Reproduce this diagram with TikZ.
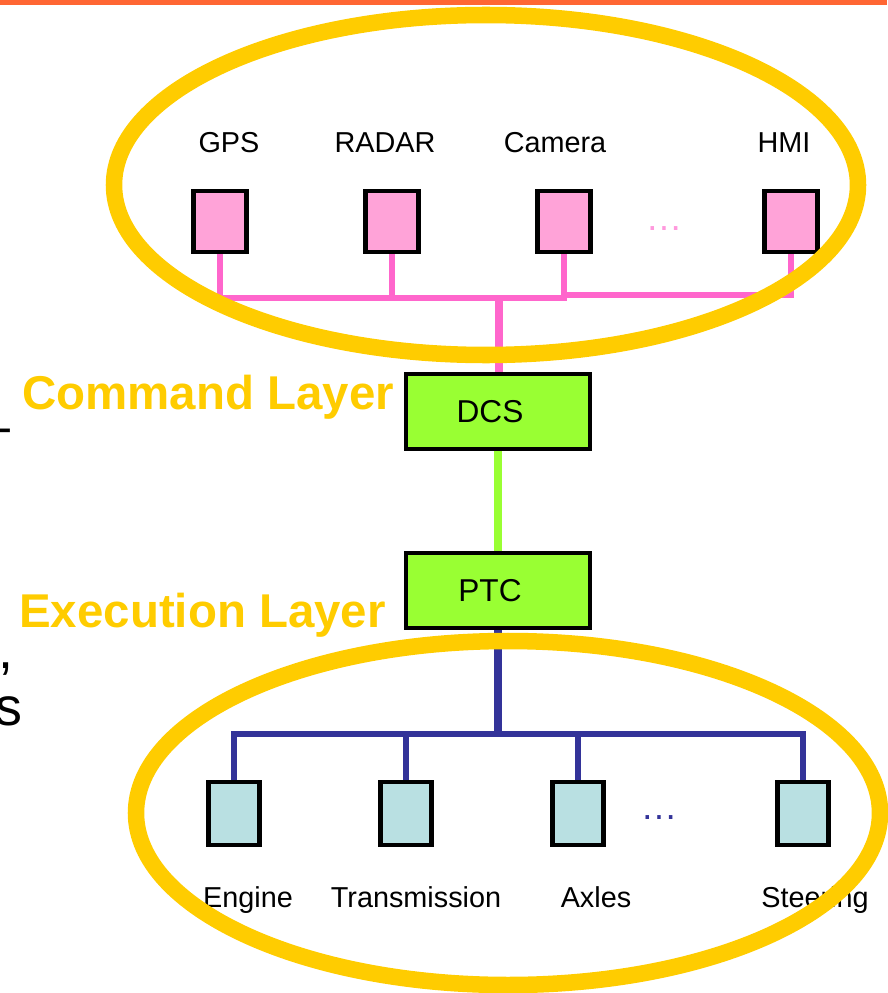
\documentclass[tikz,border=0pt]{standalone}
\usepackage{fontspec}
\setmainfont{Liberation Sans}
\definecolor{orangebar}{HTML}{FF6633}
\definecolor{yel}{HTML}{FFCC00}
\definecolor{pinkfill}{HTML}{FFA3D8}
\definecolor{pinkline}{HTML}{FF66CC}
\definecolor{pinkdot}{HTML}{FF99DD}
\definecolor{greenfill}{HTML}{99FF33}
\definecolor{blueline}{HTML}{333399}
\definecolor{cyanfill}{HTML}{B9E0E2}
\begin{document}
\begin{tikzpicture}[x=0.02cm,y=-0.02cm,
  box/.style={draw=black,line width=2.3pt,inner sep=0pt},
  sensor/.style={box,fill=pinkfill,minimum width=1.06cm,minimum height=1.22cm},
  ctrl/.style={box,fill=greenfill,minimum width=3.68cm,minimum height=1.5cm,font=\fontsize{18}{20}\selectfont},
  actu/.style={box,fill=cyanfill,minimum width=1.02cm,minimum height=1.26cm},
  lbl/.style={font=\fontsize{16.4}{18}\selectfont,anchor=base,inner sep=0pt},
  layer/.style={font=\bfseries\fontsize{27}{30}\selectfont,text=yel,anchor=base west,inner sep=0pt},
  frag/.style={font=\fontsize{30.6}{34}\selectfont,anchor=base west,inner sep=0pt},
  dotsnode/.style={font=\fontsize{21}{24}\selectfont,anchor=base,inner sep=0pt},
  ring/.style={draw=yel,line width=9.4pt},
  pinkbus/.style={draw=pinkline,line width=3pt,line join=miter},
  stem/.style={line width=4pt},
  greenbus/.style={draw=greenfill,line width=4.2pt},
  bluebus/.style={draw=blueline,line width=3pt,line join=miter}]
\useasboundingbox (0,0) rectangle (887,993);
\fill[orangebar] (0,0) rectangle (887,5);

% left text fragments
\node[frag] (fdash) at (-20,444) {–};
\node[frag] (fcomma) at (-2,668) {,};
\node[frag] (fs) at (-5,725) {s};

% sensors
\node[sensor] (gps) at (220,221.5) {};
\node[sensor] (radar) at (392,221.5) {};
\node[sensor] (cam) at (564,221.5) {};
\node[sensor] (hmi) at (791,221.5) {};
\node[lbl] (gpsl) at (229,153) {GPS};
\node[lbl] (radarl) at (385,153) {RADAR};
\node[lbl] (caml) at (555,153) {Camera};
\node[lbl] (hmil) at (784,153) {HMI};
\node[dotsnode,text=pinkdot] (pdots) at (664,231) {…};

% controllers
\node[ctrl] (dcs) at (498,411.5) {\hspace*{-0.32cm}DCS};
\node[ctrl] (ptc) at (498,590.5) {\hspace*{-0.32cm}PTC};

% actuators
\node[actu] (eng) at (234,813.5) {};
\node[actu] (trans) at (406,813.5) {};
\node[actu] (axl) at (578,813.5) {};
\node[actu] (ste) at (803,813.5) {};
\node[lbl] (engl) at (248,907) {Engine};
\node[lbl] (transl) at (416,907) {Transmission};
\node[lbl] (axll) at (596,907) {Axles};
\node[lbl] (stel) at (815,907) {Steering};
\node[dotsnode,text=blueline] (bdots) at (659,819) {…};

% bus coordinates
\coordinate (pb) at (0,298);
\coordinate (pb2) at (0,295);
\coordinate (bb) at (0,734);
\coordinate (pstem) at (499,298);
\coordinate (bstem) at (498,734);

% pink bus
\draw[pinkbus] (gps.south) -- (gps.south |- pb) -- (cam.south |- pb) -- (cam.south);
\draw[pinkbus] (radar.south) -- (radar.south |- pb);
\draw[pinkbus] (cam.south |- pb2) -- (hmi.south |- pb2) -- (hmi.south);
\draw[pinkbus,stem] (pstem) -- (dcs.north -| pstem);

% green link
\draw[greenbus] (dcs.south) -- (ptc.north);

% blue bus
\draw[bluebus,stem] (ptc.south) -- (bstem);
\draw[bluebus] (eng.north) -- (eng.north |- bb) -- (ste.north |- bb) -- (ste.north);
\draw[bluebus] (trans.north) -- (trans.north |- bb);
\draw[bluebus] (axl.north) -- (axl.north |- bb);

% layer labels
\node[layer] (cmd) at (22,409) {Command Layer};
\node[layer] (exe) at (19,627) {Execution Layer};

% highlight rings
\draw[ring] (486,185) ellipse [x radius=372, y radius=170];
\draw[ring] (508,813) ellipse [x radius=372, y radius=172];
\end{tikzpicture}
\end{document}
